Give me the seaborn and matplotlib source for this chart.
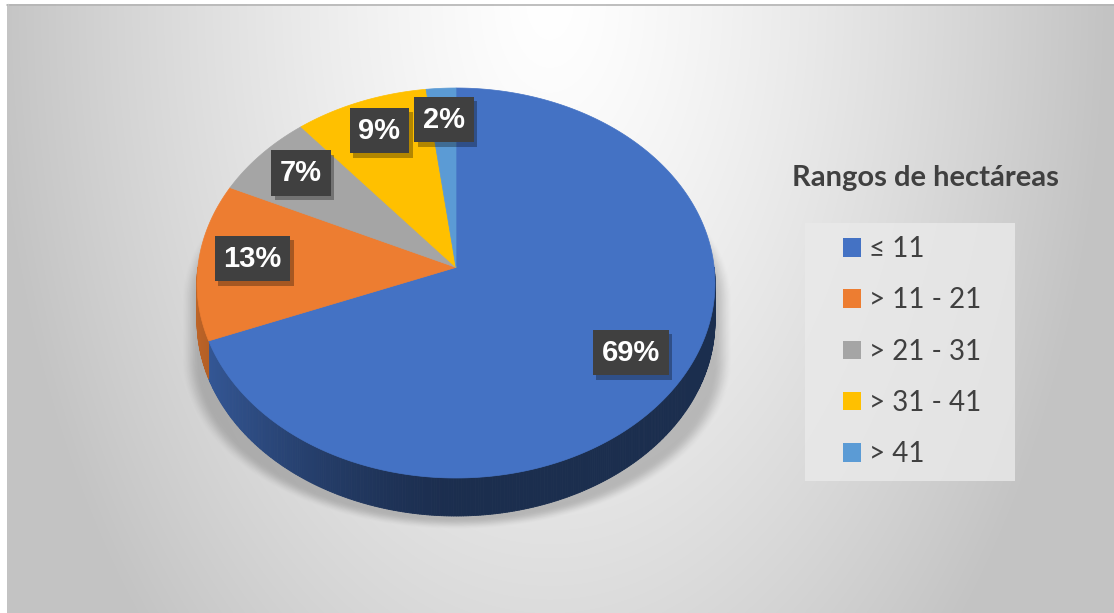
import numpy as np
import seaborn as sns
import matplotlib.pyplot as plt
import matplotlib.patheffects as pe
from matplotlib.patches import Patch
from matplotlib.collections import PolyCollection

sns.set_theme(style="white")
plt.rcParams['font.family'] = ['Lato', 'DejaVu Sans']

# datos del grafico
categorias = ['≤ 11', '> 11 - 21', '> 21 - 31', '> 31 - 41', '> 41']
porcentajes = [69, 13, 7, 9, 2]
titulo_leyenda = 'Rangos de hectáreas'
colores = sns.color_palette(['#4472C4', '#ED7D31', '#A5A5A5', '#FFC000', '#5B9BD5'])

W, H = 1114, 613
fig = plt.figure(figsize=(W / 100, H / 100), dpi=100)
ax = fig.add_axes([0, 0, 1, 1])
ax.set_axis_off()

# fondo con degradado radial
yy, xx = np.mgrid[0:H, 0:W] + 0.5
d = np.sqrt(((xx - 550) / 560) ** 2 + (yy / 928) ** 2)
g = (255 - 60 * np.clip(d, 0, 1) ** 1.3) / 255
fondo = np.ones((H, W, 3))
dentro = (xx >= 7) & (yy >= 4)
fondo[dentro] = g[dentro][:, None]
ax.imshow(fondo, extent=(0, W, H, 0), zorder=0, interpolation='bilinear')
ax.plot([7, W], [4.5, 4.5], color='#b4b4b4', lw=1.2, zorder=1)
ax.plot([7.5, 7.5], [4, H], color='#c4c4c4', lw=1, zorder=1)

# geometria del pastel 3D
cx, cy, rx, ry, k, prof = 456, 283, 259, 195, 0.08, 38
s = rx * np.sqrt(1 - k ** 2)


def proj(u, v):
    w = 1 + k * v
    return cx + s * u / w, cy - ry * (v + k) / w


# sombra difusa bajo el pastel
dx = (xx - 457) / 276
dy = yy - 300
dy = np.where(dy < 0, dy, np.maximum(dy - 60, 0)) / 170
sd = np.sqrt(dx ** 2 + dy ** 2)
a = np.clip((1.0 - sd) / 0.07, 0, 1)
a = a * a * (3 - 2 * a)
sombra = np.zeros((H, W, 4))
sombra[..., 3] = 0.2 * a
ax.imshow(sombra, extent=(0, W, H, 0), zorder=1, interpolation='bilinear')

total = sum(porcentajes)
cum = np.concatenate([[0], np.cumsum(porcentajes)]) / total

# lateral
for i, c in enumerate(colores):
    p0, p1 = 90 - 360 * cum[i], 90 - 360 * cum[i + 1]
    lo, hi = max(p1, -180), min(p0, 0)
    if lo >= hi:
        continue
    fis = np.linspace(hi, lo, int((hi - lo) * 2) + 2)
    polys, cols = [], []
    for f0, f1 in zip(fis[:-1], fis[1:]):
        x0, y0 = proj(np.cos(np.radians(f0)), np.sin(np.radians(f0)))
        x1, y1 = proj(np.cos(np.radians(f1)), np.sin(np.radians(f1)))
        polys.append([(x0, y0), (x1, y1), (x1, y1 + prof), (x0, y0 + prof)])
        xn = np.cos(np.radians((f0 + f1) / 2))
        fac = 0.4 + 0.4 * np.clip(-xn, 0, 1) ** 1.5
        cols.append(tuple(np.array(c) * fac))
    ax.add_collection(PolyCollection(polys, facecolors=cols, edgecolors=cols,
                                     linewidths=0.6, zorder=2))

# cara superior
ax0, ay0 = proj(0, 0)
for i, c in enumerate(colores):
    p0, p1 = 90 - 360 * cum[i], 90 - 360 * cum[i + 1]
    fis = np.radians(np.linspace(p0, p1, int(abs(p0 - p1) * 2) + 2))
    px, py = proj(np.cos(fis), np.sin(fis))
    ax.fill(np.r_[ax0, px], np.r_[ay0, py], color=c, ec=c, lw=0.5, zorder=3)

# etiquetas de datos
for i, v in enumerate(porcentajes):
    fm = np.radians(90 - 360 * (cum[i] + cum[i + 1]) / 2)
    lx, ly = proj(0.79 * np.cos(fm), 0.79 * np.sin(fm))
    t = ax.text(lx, ly - 4, f'{round(100 * v / total)}%', color='white',
                fontsize=21, fontweight='bold', family='Liberation Sans',
                ha='center', va='center', zorder=5,
                bbox=dict(boxstyle='square,pad=0.3', fc='#404040', ec='none'))
    t.get_bbox_patch().set_path_effects(
        [pe.withSimplePatchShadow(offset=(2.5, -3), shadow_rgbFace='black', alpha=0.3)])

# leyenda
ax.text(792, 186, titulo_leyenda, fontsize=21, fontweight='bold', color='#404040',
        va='baseline', ha='left', zorder=5)
ax.add_patch(plt.Rectangle((805, 223), 210, 258, fc='#eaeaea', ec='none', alpha=0.8, zorder=4))
handles = [Patch(facecolor=c, edgecolor='none') for c in colores]
leg = ax.legend(handles, categorias, loc='upper left', bbox_to_anchor=(843, 236),
                bbox_transform=ax.transData, frameon=False, fontsize=20,
                handlelength=0.65, handleheight=0.65, handletextpad=0.29,
                labelspacing=0.91, borderpad=0, borderaxespad=0)
leg.set_zorder(6)
for t in leg.get_texts():
    t.set_color('#404040')

ax.set_xlim(0, W)
ax.set_ylim(H, 0)
fig.savefig('out.png', dpi=100)
